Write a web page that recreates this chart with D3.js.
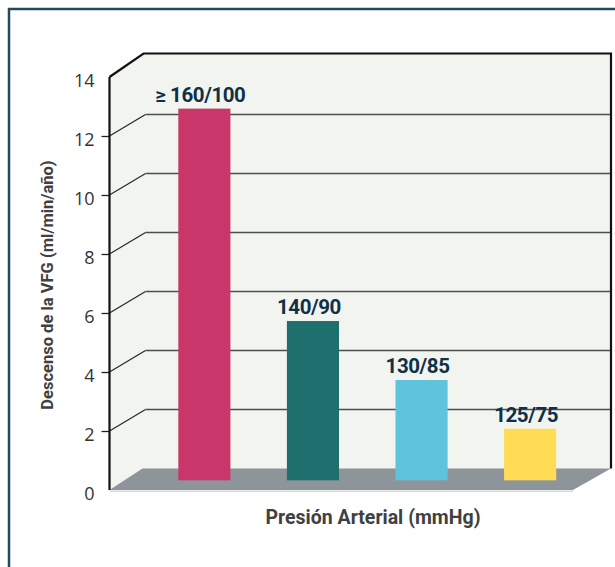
<meta charset="utf-8">
<style>
  body { margin: 0; background: #fff; }
  .tick text { font-family: "Open Sans", sans-serif; font-size: 18px; fill: #333; }
  .barlabel { font-family: Roboto, sans-serif; font-weight: bold; font-size: 20.5px; fill: #0f3047; letter-spacing: -0.4px; }
  .title { font-family: Roboto, sans-serif; font-weight: bold; fill: #404040; }
</style>
<script src="https://cdn.jsdelivr.net/npm/d3@7"></script>
<svg id="chart" width="615" height="567"></svg>
<script>
  // data
  var categories = ["≥ 160/100", "140/90", "130/85", "125/75"];
  var values = [12.6, 5.4, 3.4, 1.75];
  var colors = ["#c9376a", "#206f6f", "#5ec4dd", "#ffdc56"];
  var tickValues = [0, 2, 4, 6, 8, 10, 12, 14];

  var svg = d3.select("#chart");

  // depth of the 3d box
  var DX = 36, DY = -21.5;
  var x0 = 109.5, wallRight = 611;

  var y = d3.scaleLinear().domain([0, 14]).range([490, 77]);
  var x = d3.scaleBand().domain(categories).range([124, 610.5])
    .paddingInner(0.52).paddingOuter(0.5);

  // outer frame
  svg.append("rect")
    .attr("x", 9).attr("y", 9).attr("width", 640).attr("height", 600)
    .attr("fill", "none").attr("stroke", "#204b5f").attr("stroke-width", 2.5);

  // wall panel (side + back)
  var yTop = y(14);
  var yBack = yTop + DY - 2;
  svg.append("path")
    .attr("d", "M" + x0 + "," + yTop + "L" + (x0 + 34) + "," + yBack +
      "L" + wallRight + "," + yBack + "L" + wallRight + "," + (y(0) + DY) +
      "L" + x0 + "," + y(0) + "Z")
    .attr("fill", "#f2f5ef");

  // gridlines
  var grid = svg.append("g");
  [2, 4, 6, 8, 10, 12].forEach(function(v) {
    grid.append("line")
      .attr("x1", x0).attr("y1", y(v)).attr("x2", x0 + DX).attr("y2", y(v) + DY)
      .attr("stroke", "#222").attr("stroke-width", 1.1);
    grid.append("line")
      .attr("x1", x0 + DX).attr("y1", y(v) + DY).attr("x2", wallRight).attr("y2", y(v) + DY)
      .attr("stroke", "#4a4f4f").attr("stroke-width", 1.5);
  });

  // floor
  svg.append("path")
    .attr("d", "M" + x0 + "," + y(0) + "L" + (x0 + 33) + "," + (y(0) + DY) +
      "L" + wallRight + "," + (y(0) + DY) + "L" + 573 + "," + y(0) + "Z")
    .attr("fill", "#8d959a");
  svg.append("line")
    .attr("x1", x0).attr("x2", 573).attr("y1", y(0) + 1.2).attr("y2", y(0) + 1.2)
    .attr("stroke", "#d3dada").attr("stroke-width", 1.5);

  // top and right edges
  svg.append("path")
    .attr("d", "M" + x0 + "," + yTop + "L" + (x0 + 34) + "," + yBack +
      "L" + wallRight + "," + yBack + "L" + wallRight + "," + (y(0) + DY))
    .attr("fill", "none").attr("stroke", "#111").attr("stroke-width", 2.2);

  // bars (drawn in the middle of the depth)
  var off = DY * 0.45;
  svg.append("g").selectAll("rect")
    .data(values)
    .join("rect")
    .attr("x", function(d, i) { return x(categories[i]); })
    .attr("width", x.bandwidth())
    .attr("y", function(d) { return y(d) + off; })
    .attr("height", function(d) { return y(0) - y(d); })
    .attr("fill", function(d, i) { return colors[i]; });

  svg.append("g").selectAll("text")
    .data(values)
    .join("text")
    .attr("class", "barlabel")
    .attr("x", function(d, i) { return x(categories[i]) + x.bandwidth() / 2 - 4; })
    .attr("y", function(d) { return y(d) + off - 7; })
    .attr("text-anchor", "middle")
    .text(function(d, i) { return categories[i]; });

  // y axis
  var axis = svg.append("g")
    .attr("transform", "translate(" + x0 + ",0)")
    .call(d3.axisLeft(y).tickValues(tickValues).tickSize(8).tickPadding(7));
  axis.select(".domain").remove();
  axis.selectAll(".tick line").attr("stroke", "#222").attr("stroke-width", 1.3)
    .filter(function(d) { return d === 0 || d === 14; }).remove();
  axis.selectAll(".tick text").attr("dy", "0.5em");

  svg.append("line")
    .attr("x1", x0).attr("x2", x0).attr("y1", yTop).attr("y2", y(0))
    .attr("stroke", "#111").attr("stroke-width", 2.2);

  // titles
  svg.append("text").attr("class", "title")
    .attr("x", 373).attr("y", 524).attr("text-anchor", "middle")
    .style("font-size", "19.5px")
    .text("Presión Arterial (mmHg)");

  svg.append("text").attr("class", "title")
    .attr("transform", "translate(53,285) rotate(-90)")
    .attr("text-anchor", "middle")
    .style("font-size", "16.5px")
    .text("Descenso de la VFG (ml/min/año)");
</script>
